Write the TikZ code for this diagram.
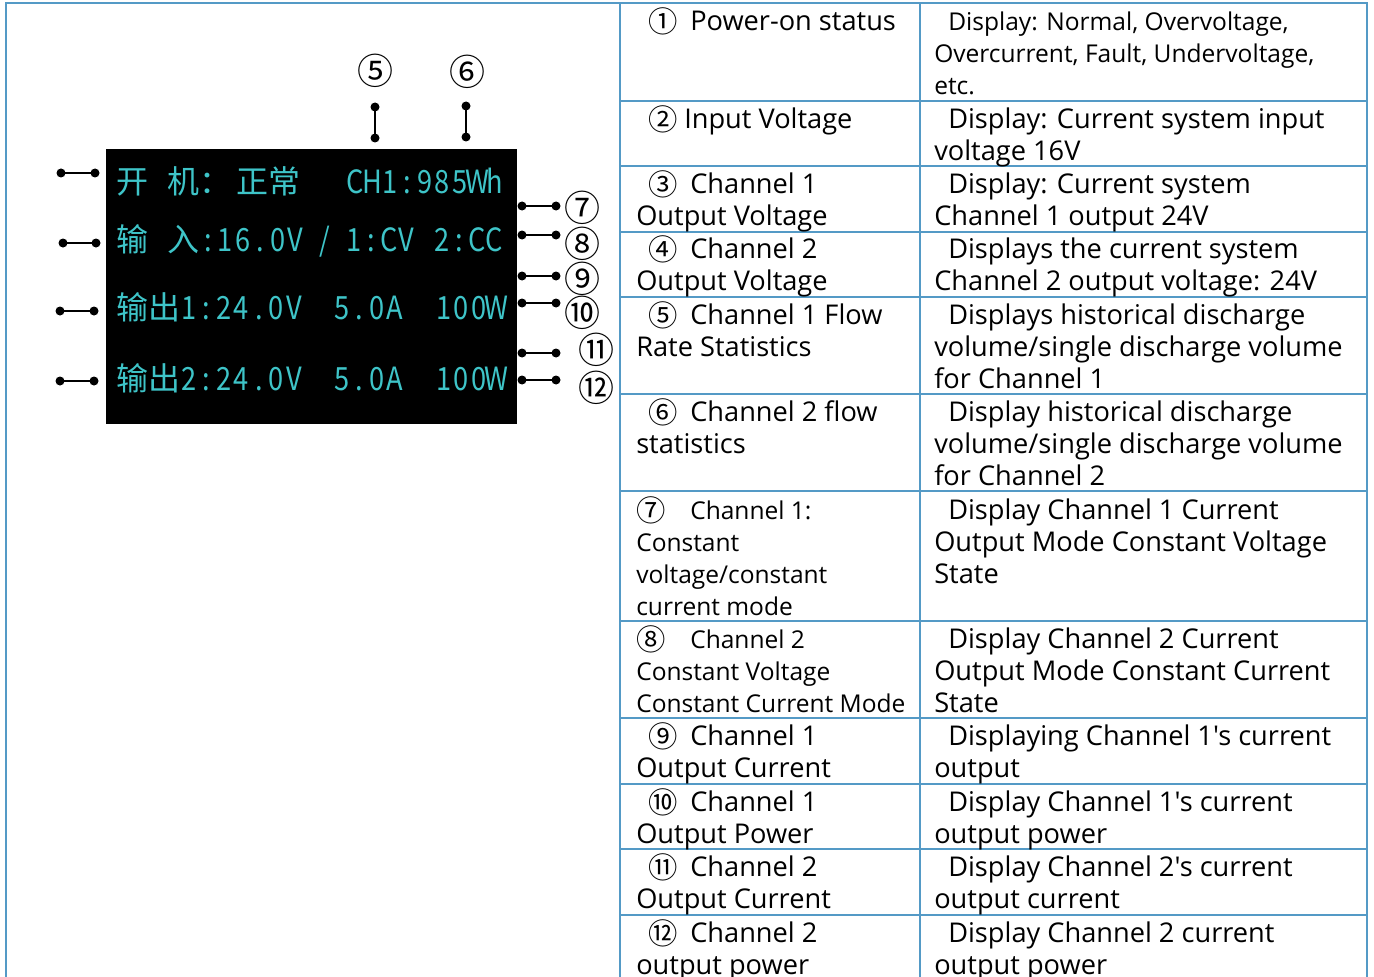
\documentclass[tikz,border=0pt]{standalone}
\usepackage{tikz}
\usepackage{graphicx}
\usepackage{fontspec}
\setmainfont{Open Sans}[Ligatures=TeXOff]
\newfontfamily\cjk{Noto Sans CJK SC}
\newdimen\px \px=0.75pt
\definecolor{frameblue}{RGB}{84,154,198}
\definecolor{lcd}{RGB}{62,196,200}
\newcommand\cellw{17.5\px}
\makeatletter
\def\mono#1{\mono@#1\@nil}
\def\mono@#1{\ifx#1\@nil\else\makebox[\cellw][c]{\scalebox{0.85}[1]{#1}}\expandafter\mono@\fi}
\makeatother
\newcommand\fl[3]{\makebox[#2\px][l]{\hspace*{#1\px}\smash{\raisebox{-2\px}{\cjk\fontsize{22}{24}\selectfont #3}}}}
\newcommand\ri{\hspace*{14\px}}
\begin{document}
\begin{tikzpicture}[x=0.75pt,y=-0.75pt,
  lcdtxt/.style={text=lcd, font=\cjk\fontsize{24}{24}\selectfont, anchor=base west, inner sep=0},
  enddot/.style={circle, fill=black, inner sep=0, minimum size=9\px},
  connline/.style={line width=2.5\px, black},
  cnum/.style={font=\cjk\fontsize{27}{27}\selectfont, inner sep=0},
  tcell/.style={anchor=north west, inner sep=0, align=left, font=\fontsize{20.4}{24}\selectfont},
  tcellsmall/.style={tcell, font=\fontsize{18.4}{24}\selectfont},
  tableline/.style={draw=frameblue, line width=1.5\px},
  outerline/.style={draw=frameblue, line width=2\px}]
\useasboundingbox (0,0) rectangle (1374,977);
\fill[white] (0,0) rectangle (1374,977);

% frame and table grid
\draw[outerline] (5.5,977) -- (5.5,3) -- (1367,3) -- (1367,977);
\draw[tableline] (620,3) -- (620,977);
\draw[tableline] (920,3) -- (920,977);
\foreach \yy in {101,166,232,297,394,491,621,718,784,849,915}
  \draw[tableline] (620,\yy) -- (1367,\yy);

% screen
\fill[black] (106,149) rectangle (517,424);
\node[lcdtxt] (a1) at (116,194) {开};
\node[lcdtxt] (a2) at (167,194) {机：};
\node[lcdtxt] (a3) at (236,194) {正常};
\node[lcdtxt] (a4) at (346,194) {\mono{CH1:985Wh}};
\node[lcdtxt] (b1) at (116,251) {输};
\node[lcdtxt] (b2) at (167,251) {入};
\node[lcdtxt] (b3) at (199,251) {\mono{:16.0V}};
\node[lcdtxt] (b4) at (316,251) {\mono{/}};
\node[lcdtxt] (b5) at (345,251) {\mono{1:CV}};
\node[lcdtxt] (b6) at (433,251) {\mono{2:CC}};
\node[lcdtxt] (c1) at (116,319) {输出};
\node[lcdtxt] (c2) at (180,319) {\mono{1:24.0V}};
\node[lcdtxt] (c3) at (333,319) {\mono{5.0A}};
\node[lcdtxt] (c4) at (435,319) {\mono{100W}};
\node[lcdtxt] (d1) at (116,390) {输出};
\node[lcdtxt] (d2) at (180,390) {\mono{2:24.0V}};
\node[lcdtxt] (d3) at (333,390) {\mono{5.0A}};
\node[lcdtxt] (d4) at (435,390) {\mono{100W}};

% connectors
\foreach \nm/\xa/\xb/\yy in {l1/61/95/173, l2/63/96/243, l3/60/94/311, l4/60/94/381,
    r7/522/556/206, r8/522/556/235, r9/522/556/276, r10/522/556/303, r11/522/556/353, r12/522/556/380}{
  \node[enddot] (\nm a) at (\xa,\yy) {};
  \node[enddot] (\nm b) at (\xb,\yy) {};
  \draw[connline] (\nm a.center) -- (\nm b.center);
}
\node[enddot] (v5a) at (375,107) {};
\node[enddot] (v5b) at (375,138) {};
\draw[connline] (v5a.center) -- (v5b.center);
\node[enddot] (v6a) at (466,106) {};
\node[enddot] (v6b) at (466,137) {};
\draw[connline] (v6a.center) -- (v6b.center);

% callout numbers
\node[cnum] (n5) at (375,71) {⑤};
\node[cnum] (n6) at (467,72) {⑥};
\node[cnum] (n7) at (582,208) {⑦};
\node[cnum] (n8) at (582,244) {⑧};
\node[cnum] (n9) at (582,279) {⑨};
\node[cnum] (n10) at (582,313) {⑩};
\node[cnum] (n11) at (596,350) {⑪};
\node[cnum] (n12) at (596,388) {⑫};

% table left column
\node[tcell] (L1) at (636,7.6) {\strut\fl{12}{54}{①}Power-on status};
\node[tcell] (L2) at (636,105.6) {\strut\fl{12}{48}{②}Input Voltage};
\node[tcell] (L3) at (636,170.6) {\strut\fl{12}{54}{③}Channel 1\\Output Voltage};
\node[tcell] (L4) at (636,235.6) {\strut\fl{12}{54}{④}Channel 2\\Output Voltage};
\node[tcell] (L5) at (636,301.6) {\strut\fl{12}{54}{⑤}Channel 1 Flow\\Rate Statistics};
\node[tcell] (L6) at (636,398.6) {\strut\fl{12}{54}{⑥}Channel 2 flow\\statistics};
\node[tcellsmall] (L7) at (636,496.6) {\strut\fl{0}{54}{⑦}Channel 1:\\Constant\\voltage/constant\\current mode};
\node[tcellsmall] (L8) at (636,625.6) {\strut\fl{0}{54}{⑧}Channel 2\\Constant Voltage\\Constant Current Mode};
\node[tcell] (L9) at (636,722.6) {\strut\fl{12}{54}{⑨}Channel 1\\Output Current};
\node[tcell] (L10) at (636,788.6) {\strut\fl{12}{54}{⑩}Channel 1\\Output Power};
\node[tcell] (L11) at (636,853.6) {\strut\fl{12}{54}{⑪}Channel 2\\Output Current};
\node[tcell] (L12) at (636,919.6) {\strut\fl{12}{54}{⑫}Channel 2\\output power};

% table right column
\node[tcellsmall] (R1) at (934,7.6) {\strut\ri Display: Normal, Overvoltage,\\Overcurrent, Fault, Undervoltage,\\etc.};
\node[tcell] (R2) at (934,105.6) {\strut\ri Display: Current system input\\voltage 16V};
\node[tcell] (R3) at (934,170.6) {\strut\ri Display: Current system\\Channel 1 output 24V};
\node[tcell] (R4) at (934,235.6) {\strut\ri Displays the current system\\Channel 2 output voltage: 24V};
\node[tcell] (R5) at (934,301.6) {\strut\ri Displays historical discharge\\volume/single discharge volume\\for Channel 1};
\node[tcell] (R6) at (934,398.6) {\strut\ri Display historical discharge\\volume/single discharge volume\\for Channel 2};
\node[tcell] (R7) at (934,496.6) {\strut\ri Display Channel 1 Current\\Output Mode Constant Voltage\\State};
\node[tcell] (R8) at (934,625.6) {\strut\ri Display Channel 2 Current\\Output Mode Constant Current\\State};
\node[tcell] (R9) at (934,722.6) {\strut\ri Displaying Channel 1's current\\output};
\node[tcell] (R10) at (934,788.6) {\strut\ri Display Channel 1's current\\output power};
\node[tcell] (R11) at (934,853.6) {\strut\ri Display Channel 2's current\\output current};
\node[tcell] (R12) at (934,919.6) {\strut\ri Display Channel 2 current\\output power};
\end{tikzpicture}
\end{document}
